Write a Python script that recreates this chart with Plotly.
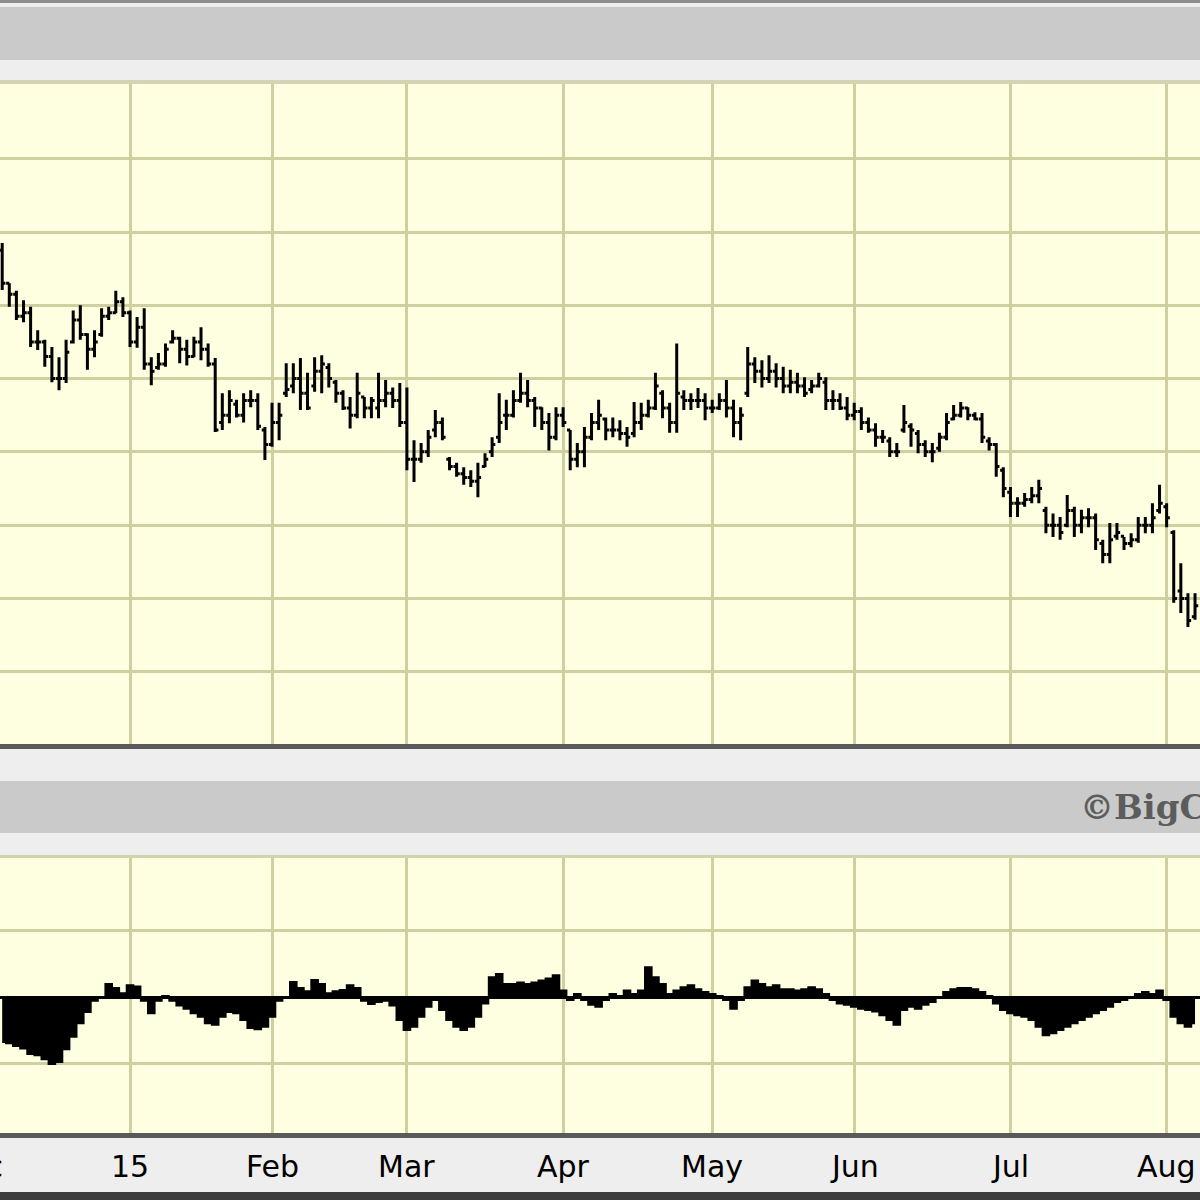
import plotly.graph_objects as go

# ---------------- data (trading-day index 0 = early Dec 2014) ----------------
day_index = list(range(169))

highs = [68.5, 63, 62, 60.7, 59.8, 56.6, 55.3, 54.3, 52.9, 55.3,
         59.3, 60.0, 56.2, 56.6, 59.6, 59.8, 62.0, 61.1, 59.3, 58.4,
         59.6, 52.9, 53.5, 54.8, 56.6, 55.7, 55.3, 55.7, 57.0, 54.8,
         52.8, 48.0, 48.4, 47.1, 48.0, 48.4, 48.0, 43.4, 46.7, 46.7,
         52.1, 52.1, 52.8, 50.8, 52.9, 53.2, 52.1, 49.8, 48.4, 47.5,
         50.8, 47.5, 47.5, 50.8, 49.8, 48.8, 49.4, 48.8, 41.6, 41.2,
         43.0, 45.7, 44.7, 39.3, 38.5, 37.9, 37.5, 38.5, 39.8, 42.0,
         48.0, 47.1, 48.4, 50.8, 49.8, 47.5, 46.1, 45.3, 46.1, 46.1,
         43.0, 41.2, 43.4, 45.3, 47.1, 44.7, 44.7, 44.3, 43.4, 46.8,
         46.7, 47.1, 50.8, 48.4, 46.7, 54.8, 48.4, 48.0, 48.7, 48.0,
         47.1, 48.0, 49.8, 47.1, 46.1, 54.3, 52.9, 52.5, 53.2, 52.1,
         51.6, 51.2, 50.8, 50.2, 49.8, 50.8, 50.2, 48.4, 48.0, 47.5,
         46.7, 46.1, 44.7, 43.9, 43.0, 42.0, 41.2, 46.4, 43.9, 43.0,
         41.6, 41.2, 42.6, 45.3, 46.4, 46.8, 46.1, 45.4, 45.3, 42.0,
         41.2, 37.9, 35.2, 33.8, 34.4, 35.2, 36.2, 32.5, 31.6, 31.1,
         34.1, 32.5, 32.1, 32.3, 31.6, 28.0, 30.3, 30.3, 28.4, 28.9,
         31.1, 31.1, 33.0, 35.5, 33.0, 29.3, 24.8, 20.7, 20.7]

lows = [62.1, 59.8, 58.0, 57.7, 54.3, 53.9, 51.6, 49.5, 48.4, 49.4,
        54.8, 55.3, 51.2, 52.9, 55.7, 58.0, 58.9, 58.4, 54.3, 54.2,
        51.2, 49.1, 51.2, 51.6, 54.8, 52.1, 51.8, 52.9, 52.5, 51.6,
        42.7, 43.0, 43.9, 44.7, 44.0, 46.1, 43.0, 38.9, 40.7, 41.6,
        47.5, 48.0, 45.7, 45.7, 48.2, 48.0, 48.8, 46.7, 45.7, 43.2,
        44.6, 44.6, 44.6, 44.6, 46.1, 46.0, 43.4, 37.5, 35.9, 38.5,
        39.3, 42.0, 41.6, 37.5, 36.6, 35.5, 35.2, 33.8, 37.9, 39.3,
        41.2, 43.0, 44.7, 46.7, 46.1, 43.4, 43.0, 40.2, 41.6, 43.4,
        37.5, 37.9, 37.9, 41.6, 43.0, 41.6, 42.0, 41.6, 40.7, 42.0,
        43.0, 44.7, 45.7, 44.6, 42.6, 42.6, 45.7, 45.7, 46.0, 44.3,
        45.3, 45.7, 44.7, 42.0, 41.6, 47.5, 49.4, 48.8, 49.4, 48.8,
        48.0, 48.0, 48.0, 47.5, 48.0, 48.8, 45.7, 45.7, 45.7, 44.3,
        44.3, 43.0, 42.6, 40.7, 41.2, 39.3, 39.3, 42.6, 40.7, 39.8,
        39.3, 38.6, 40.0, 41.6, 44.3, 44.7, 44.3, 44.3, 41.2, 40.2,
        36.6, 33.8, 31.1, 31.1, 32.5, 33.0, 33.0, 28.9, 28.4, 28.0,
        29.7, 28.4, 28.9, 29.7, 26.6, 24.8, 24.8, 28.0, 26.6, 27.0,
        27.6, 28.9, 28.9, 31.6, 29.7, 19.4, 18.0, 16.1, 17.1]

opens = [67.5, 63, 61.5, 58.5, 59, 55, 55, 53, 50, 50,
         55, 58, 56, 54, 56, 58.5, 59, 60.5, 59, 55,
         57, 52, 51.5, 52, 55, 55.5, 54, 53, 55, 54,
         52, 44, 45, 46.5, 45, 47, 47, 43, 41, 44,
         48, 49, 50, 48, 49, 51, 51.5, 49.5, 48, 46,
         45, 47.5, 46, 46, 47, 48, 47, 44, 39, 39,
         40, 43, 44, 39, 38, 37, 36.5, 36, 38, 40,
         42, 45, 45, 47, 48, 47, 46, 44, 42, 45,
         43, 39, 40, 42, 44, 44.5, 43, 43, 42.5, 42.5,
         44, 45, 46, 48, 46, 44, 47.5, 47, 47, 47,
         46, 46, 47, 46, 44, 48, 52, 51, 50, 51,
         50, 49, 49.5, 49, 48.5, 49, 49.5, 47, 47, 46,
         45, 45.5, 44, 43, 42, 41.5, 40, 43, 43.5, 42.5,
         41, 40, 40.5, 42, 44.5, 45, 46, 45, 44.5, 41.5,
         41, 37.5, 34.5, 33, 33, 33.5, 34, 32, 30, 30,
         30, 32, 30, 31, 31, 27.5, 26, 28.5, 28.5, 27.5,
         28, 30, 30, 32, 32.5, 29, 21, 20, 17.5]

closes = [63, 61.5, 58.5, 59, 55, 55, 53, 50, 50, 53.6,
          58, 56, 54, 55, 58.5, 59, 60.5, 59, 55, 57,
          52, 51, 52, 54, 55.5, 54, 53, 55, 54, 52,
          43, 45, 47, 45, 47, 47, 43.5, 41, 44, 45,
          48.5, 50, 48, 46, 51, 52, 50, 48, 46, 45,
          48, 46, 47, 47, 48, 47, 44, 39, 39, 40,
          42, 44, 42, 38, 37, 36.5, 36, 36.5, 39, 41,
          44, 45, 47, 48, 47, 46, 44, 42, 45, 44,
          39, 40, 42, 44, 45, 43, 43, 42.5, 42, 44,
          45, 46, 49, 46, 44, 48, 47, 47, 47, 46,
          46, 47, 46, 44, 45, 52, 51, 50, 51, 50,
          49, 49.5, 49, 48, 49, 50, 47, 47, 46, 45,
          45.5, 44, 43, 42, 42, 40, 40, 44, 43, 41,
          40, 40, 42, 44, 45, 46, 45, 44.5, 42, 41,
          38, 35, 33, 33, 33.5, 34, 35, 30, 30, 29,
          32, 30, 31, 31, 28, 26, 28, 29, 27.5, 28,
          30, 30, 31, 33, 31, 20, 20, 17, 19]

indicator = [-0.68, -0.70, -0.74, -0.78, -0.86, -0.88, -0.94, -1.01, -0.98, -0.79,
             -0.60, -0.40, -0.23, -0.06, 0.0, 0.20, 0.14, 0.06, 0.18, 0.16,
             -0.06, -0.25, -0.06, 0.02, -0.06, -0.13, -0.18, -0.25, -0.30, -0.40,
             -0.42, -0.30, -0.23, -0.25, -0.35, -0.47, -0.49, -0.45, -0.30, -0.06,
             0.0, 0.23, 0.14, 0.09, 0.26, 0.20, 0.06, 0.09, 0.11, 0.18,
             0.14, -0.06, -0.11, -0.08, -0.06, -0.13, -0.35, -0.50, -0.45, -0.30,
             -0.15, -0.05, -0.20, -0.35, -0.45, -0.50, -0.45, -0.30, -0.10, 0.30,
             0.35, 0.20, 0.20, 0.22, 0.20, 0.22, 0.25, 0.28, 0.33, 0.10,
             -0.05, 0.05, -0.05, -0.12, -0.15, -0.05, 0.05, 0.02, 0.10, 0.05,
             0.10, 0.45, 0.30, 0.20, 0.05, 0.10, 0.15, 0.18, 0.12, 0.08,
             0.05, 0.02, -0.05, -0.18, -0.05, 0.15, 0.25, 0.20, 0.15, 0.18,
             0.12, 0.12, 0.10, 0.12, 0.15, 0.12, 0.05, -0.05, -0.10, -0.12,
             -0.15, -0.18, -0.20, -0.22, -0.28, -0.35, -0.42, -0.20, -0.15, -0.18,
             -0.12, -0.08, -0.02, 0.08, 0.12, 0.14, 0.14, 0.12, 0.08, 0.02,
             -0.10, -0.20, -0.25, -0.28, -0.30, -0.35, -0.45, -0.58, -0.55, -0.50,
             -0.45, -0.40, -0.35, -0.30, -0.25, -0.20, -0.15, -0.08, -0.05, -0.02,
             0.05, 0.08, 0.05, 0.10, -0.05, -0.30, -0.40, -0.45, -0.40]

month_idx = [-4, 18, 38, 57, 79, 100, 120, 142, 164]
month_labels = ["Dec", "15", "Feb", "Mar", "Apr", "May", "Jun", "Jul", "Aug"]
price_grid = [10, 20, 30, 40, 50, 60, 70, 80]
ind_grid = [-1, 1]

# ---------------- styling ----------------
W = H = 1200
BG = "#EEEEEE"
BAND = "#CACACA"
PLOT_BG = "#FEFEE0"
GRID = "#CFCF9F"
X_RANGE = [-0.31, 168.7]


def py(ypx):
    return 1 - ypx / H


fig = go.Figure()
fig.add_trace(go.Ohlc(
    x=day_index, open=opens, high=highs, low=lows, close=closes,
    xaxis="x", yaxis="y", tickwidth=0.45,
    increasing=dict(line=dict(color="black", width=3)),
    decreasing=dict(line=dict(color="black", width=3)),
    hoverinfo="skip", showlegend=False,
))
fig.add_trace(go.Scatter(
    x=day_index, y=indicator, xaxis="x2", yaxis="y2", mode="lines",
    line=dict(color="black", width=1.5, shape="hvh"), fill="tozeroy", fillcolor="black",
    hoverinfo="skip", showlegend=False,
))

axis_common = dict(showgrid=True, gridcolor=GRID, gridwidth=3, zeroline=False,
                   showline=False, ticks="", showticklabels=False, fixedrange=True)

fig.update_layout(
    width=W, height=H,
    margin=dict(l=0, r=0, t=0, b=0),
    paper_bgcolor=BG, plot_bgcolor=PLOT_BG,
    showlegend=False,
    xaxis=dict(domain=[0, 1], range=X_RANGE, anchor="y", tickmode="array",
               tickvals=month_idx, rangeslider=dict(visible=False), **axis_common),
    yaxis=dict(domain=[py(745), py(84)], range=[0, 90.2], anchor="x",
               tickmode="array", tickvals=price_grid, **axis_common),
    xaxis2=dict(domain=[0, 1], range=X_RANGE, anchor="y2", tickmode="array",
                tickvals=month_idx, matches="x", **axis_common),
    yaxis2=dict(domain=[py(1133), py(858)], range=[-2.045, 2.09], anchor="x2",
                tickmode="array", tickvals=ind_grid,
                **{k: v for k, v in axis_common.items() if k != "zeroline"},
                zeroline=True, zerolinecolor="black", zerolinewidth=2.5),
)

shapes = []


def band(y0, y1, color, layer="below"):
    shapes.append(dict(type="rect", xref="paper", yref="paper", x0=0, x1=1,
                       y0=py(y1), y1=py(y0), fillcolor=color, line=dict(width=0),
                       layer=layer))


band(0, 3, "#8E8E8E")
band(7, 60, BAND)
band(80, 84, "#D4D4B4")
band(744, 749, "#5A5A5A", "above")
band(781, 833, BAND)
band(855, 858, "#D4D4AC")
band(1133, 1138, "#5A5A5A", "above")
band(1192, 1200, "#3C3C3C", "above")
fig.update_layout(shapes=shapes)

annotations = [dict(text="\u00a9BigCharts.com", xref="paper", yref="paper",
                    x=1078 / W, y=py(807), xanchor="left", yanchor="middle",
                    showarrow=False,
                    font=dict(family="DejaVu Serif", size=34, color="#5C5C5C",
                              weight="bold"))]
span = X_RANGE[1] - X_RANGE[0]
for idx, lab in zip(month_idx, month_labels):
    xp = (idx - X_RANGE[0]) / span
    annotations.append(dict(text=lab, xref="paper", yref="paper", x=xp, y=py(1166),
                            xanchor="center", yanchor="middle", showarrow=False,
                            font=dict(family="DejaVu Sans", size=30, color="black")))
fig.update_layout(annotations=annotations)

fig.write_html("out.html", config={"displayModeBar": False},
               post_script="document.body.style.margin='0';document.body.style.overflow='hidden';")
